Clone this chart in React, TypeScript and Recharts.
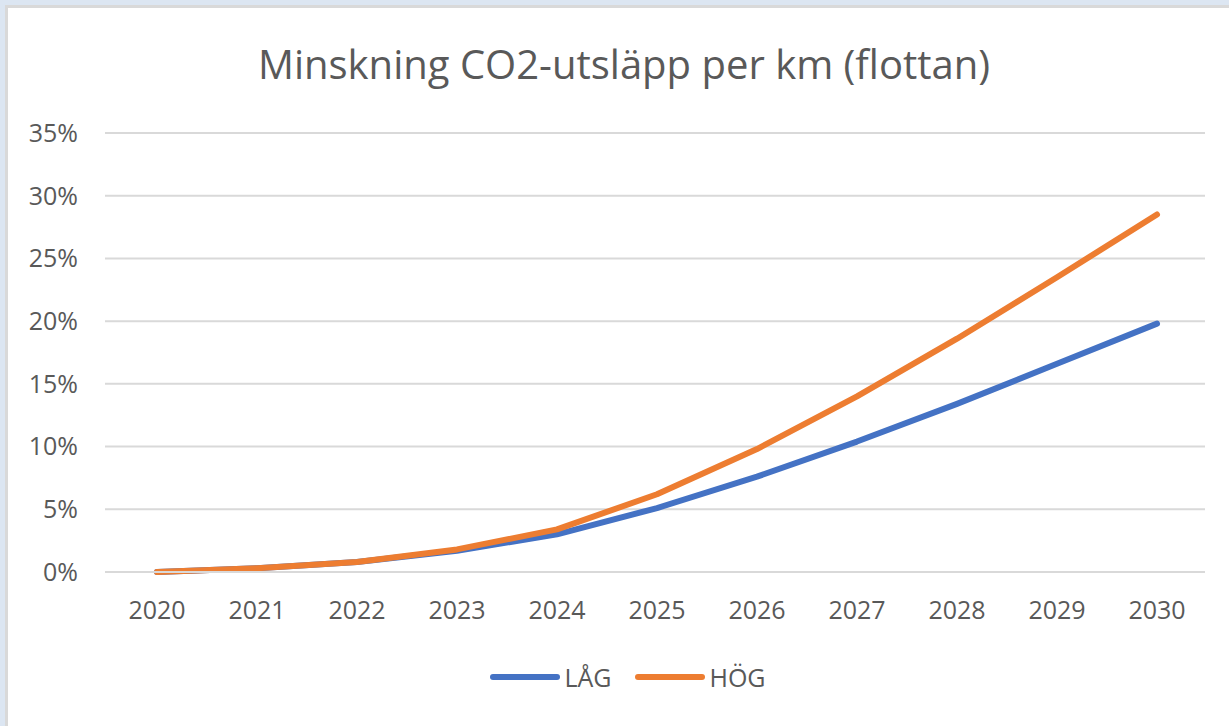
import React from 'react';
import { LineChart, Line, XAxis, YAxis, CartesianGrid, Legend } from 'recharts';

const years = ['2020', '2021', '2022', '2023', '2024', '2025', '2026', '2027', '2028', '2029', '2030'];
const lag = [0, 0.003, 0.008, 0.017, 0.030, 0.051, 0.076, 0.104, 0.134, 0.166, 0.198];
const hog = [0, 0.003, 0.008, 0.018, 0.034, 0.062, 0.098, 0.140, 0.186, 0.235, 0.285];
const yTicks = [0, 0.05, 0.1, 0.15, 0.2, 0.25, 0.3, 0.35];

const data = years.map((year, i) => ({ year, lag: lag[i], hog: hog[i] }));

const FONT = '"Open Sans", sans-serif';
const TEXT = '#595959';

const renderLegend = () => (
  <div style={{ display: 'flex', justifyContent: 'center', fontFamily: FONT, fontSize: 25, color: TEXT, paddingLeft: 27 }}>
    {[
      { label: 'LÅG', color: '#4472c4' },
      { label: 'HÖG', color: '#ed7d31' },
    ].map((item) => (
      <div key={item.label} style={{ display: 'flex', alignItems: 'center', margin: '0 12px' }}>
        <div style={{ width: 70, height: 6, borderRadius: 3, background: item.color, marginRight: 4 }} />
        <span>{item.label}</span>
      </div>
    ))}
  </div>
);

const App: React.FC = () => {
  return (
    <div style={{ position: 'absolute', left: 0, top: 0, width: 1229, height: 726, background: '#dce6f2', overflow: 'hidden' }}>
      <div style={{ position: 'absolute', left: 5, top: 5, width: 1230, height: 730, background: '#fff', borderTop: '3px solid #d9d9d9', borderLeft: '3px solid #d9d9d9' }} />
      <div style={{ position: 'absolute', left: 0, top: 36, width: 1248, textAlign: 'center', fontFamily: FONT, fontSize: 40, color: TEXT }}>
        Minskning CO2-utsläpp per km (flottan)
      </div>
      <div style={{ position: 'absolute', left: 0, top: 0 }}>
        <LineChart width={1229} height={726} data={data} margin={{ top: 133, right: 24, bottom: 114, left: 0 }}>
          <CartesianGrid vertical={false} stroke="#d9d9d9" strokeWidth={2} />
          <XAxis
            dataKey="year"
            height={40}
            padding={{ left: 52, right: 48 }}
            axisLine={{ stroke: '#d9d9d9', strokeWidth: 2 }}
            tickLine={false}
            tickSize={0}
            tickMargin={29}
            tick={{ fill: TEXT, fontSize: 25, fontFamily: FONT }}
          />
          <YAxis
            width={105}
            domain={[0, 0.35]}
            ticks={yTicks}
            tickFormatter={(v: number) => `${Math.round(v * 100)}%`}
            axisLine={false}
            tickLine={false}
            tickSize={0}
            tickMargin={27}
            tick={{ fill: TEXT, fontSize: 25, fontFamily: FONT }}
          />
          <Line dataKey="lag" name="LÅG" type="linear" stroke="#4472c4" strokeWidth={6} strokeLinecap="round" strokeLinejoin="round" dot={false} isAnimationActive={false} />
          <Line dataKey="hog" name="HÖG" type="linear" stroke="#ed7d31" strokeWidth={6} strokeLinecap="round" strokeLinejoin="round" dot={false} isAnimationActive={false} />
          <Legend verticalAlign="middle" content={renderLegend} wrapperStyle={{ top: 660, left: 0, width: 1229 }} />
        </LineChart>
      </div>
    </div>
  );
};

export default App;
